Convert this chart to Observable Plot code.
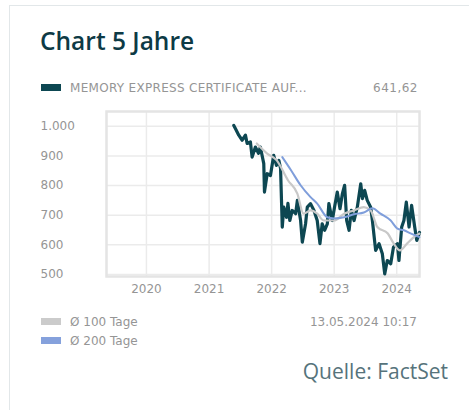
<!DOCTYPE html>
<html>
<head>
<meta charset="utf-8">
<script src="https://cdn.jsdelivr.net/npm/d3@7"></script>
<script src="https://cdn.jsdelivr.net/npm/@observablehq/plot@0.6"></script>
<style>
  html, body { margin: 0; padding: 0; background: #fff; width: 469px; height: 410px; overflow: hidden; }
  .card { position: absolute; left: 9px; top: 5px; width: 600px; height: 600px; border-left: 1px solid #e2e7e9; border-top: 1px solid #e2e7e9; }
  .t { position: absolute; white-space: nowrap; font-family: "DejaVu Sans", sans-serif; font-size: 12px; line-height: 14px; color: #959595; }
  .title { position: absolute; left: 40px; top: 24px; font-family: "Open Sans", sans-serif; font-weight: 600; font-size: 24.5px; line-height: 33px; color: #0d3a45; white-space: nowrap; }
  .sw { position: absolute; width: 20px; height: 7px; }
  .src { position: absolute; right: 21px; top: 357px; font-family: "Open Sans", sans-serif; font-size: 21px; line-height: 29px; color: #56737b; white-space: nowrap; }
  #chart { position: absolute; left: 0; top: 100px; }
</style>
</head>
<body>
<div class="card"></div>
<div class="title">Chart 5 Jahre</div>
<div class="sw" style="left:41px;top:84px;background:#0d4752"></div>
<div class="t" style="left:70px;top:81px;letter-spacing:0.3px">MEMORY EXPRESS CERTIFICATE AUF...</div>
<div class="t" style="right:51px;top:81px;letter-spacing:0.5px">641,62</div>
<div id="chart"></div>
<div class="sw" style="left:41px;top:318px;background:#cbcbcb"></div>
<div class="t" style="left:70px;top:315px">Ø 100 Tage</div>
<div class="sw" style="left:41px;top:337px;background:#85a1dc"></div>
<div class="t" style="left:70px;top:334px">Ø 200 Tage</div>
<div class="t" style="right:52px;top:315px">13.05.2024 10:17</div>
<div class="src">Quelle: FactSet</div>
<script>
const priceDates = ["2021-05-25","2021-06-04","2021-06-23","2021-07-13","2021-08-01","2021-08-11","2021-08-30","2021-09-09","2021-09-28","2021-10-16","2021-10-27","2021-11-16","2021-11-20","2021-12-06","2021-12-25","2022-01-13","2022-01-29","2022-02-12","2022-02-22","2022-03-04","2022-03-13","2022-03-29","2022-04-06","2022-04-17","2022-05-01","2022-05-21","2022-05-31","2022-06-19","2022-06-29","2022-07-18","2022-07-28","2022-08-16","2022-09-05","2022-09-24","2022-10-10","2022-10-23","2022-11-06","2022-11-22","2022-12-01","2022-12-21","2023-01-03","2023-01-19","2023-02-04","2023-02-18","2023-03-03","2023-03-15","2023-03-29","2023-04-11","2023-04-27","2023-05-16","2023-06-05","2023-06-15","2023-06-28","2023-07-13","2023-08-02","2023-08-12","2023-08-31","2023-09-20","2023-10-09","2023-10-23","2023-11-07","2023-11-27","2023-12-13","2024-01-05","2024-01-14","2024-01-30","2024-02-12","2024-02-26","2024-03-13","2024-03-28","2024-04-15","2024-04-27","2024-05-13"];
const priceValues = [1003,992,970,953,970,942,947,896,930,909,930,874,778,840,834,902,868,885,858,660,727,693,740,682,716,705,750,682,609,671,727,739,716,682,604,671,649,671,739,682,727,778,722,773,801,682,649,716,682,727,806,756,784,750,727,682,581,604,570,502,547,536,592,604,547,660,682,744,660,733,660,615,641.62];

const ma100Dates = ["2021-10-06","2021-12-06","2022-01-31","2022-04-06","2022-05-31","2022-07-06","2022-08-16","2022-09-24","2022-11-01","2022-12-31","2023-02-28","2023-04-27","2023-06-23","2023-08-02","2023-09-10","2023-11-10","2023-12-15","2024-01-20","2024-03-01","2024-04-10","2024-05-13"];
const ma100Values = [942,908,885,818,773,705,716,705,682,682,705,716,727,716,660,638,604,581,604,626,638];

const ma200Dates = ["2022-03-04","2022-04-25","2022-06-19","2022-08-16","2022-09-24","2022-11-22","2023-01-01","2023-02-28","2023-04-27","2023-06-23","2023-08-12","2023-09-28","2023-11-27","2024-01-05","2024-02-12","2024-03-25","2024-05-13"];
const ma200Values = [896,851,801,761,739,693,689,693,703,709,723,705,682,655,649,638,626];

const yTicks = [500, 600, 700, 800, 900, 1000];
const xTickLabels = ["2020", "2021", "2022", "2023", "2024"];
const xDomain = ["2019-05-13", "2024-05-13"];

const toRows = (ds, vs) => ds.map((d, i) => ({date: new Date(d), value: vs[i]}));
const price = toRows(priceDates, priceValues);
const ma100 = toRows(ma100Dates, ma100Values);
const ma200 = toRows(ma200Dates, ma200Values);
const xTicks = xTickLabels.map(y => new Date(y + "-01-01"));
const de = d3.formatLocale({decimal: ",", thousands: ".", grouping: [3], currency: ["", "€"]});

const chart = Plot.plot({
  width: 469,
  height: 200,
  marginLeft: 106,
  marginRight: 50,
  marginTop: 11,
  marginBottom: 24,
  style: {fontFamily: "DejaVu Sans, sans-serif", fontSize: "12px", color: "#959595", background: "transparent", overflow: "visible"},
  x: {type: "utc", domain: xDomain.map(d => new Date(d)), label: null},
  y: {domain: [493, 1050], label: null},
  marks: [
    Plot.gridY(yTicks, {stroke: "#ebebeb", strokeOpacity: 1, strokeWidth: 1.5}),
    Plot.gridX(xTicks, {stroke: "#ebebeb", strokeOpacity: 1, strokeWidth: 1.5}),
    Plot.frame({stroke: "#e4e4e4", strokeWidth: 2.5}),
    Plot.axisY(yTicks, {tickSize: 0, tickPadding: 66, textAnchor: "start", tickFormat: de.format(",d"), fill: "#959595", label: null}),
    Plot.axisX(xTicks, {tickSize: 0, tickPadding: 8, tickFormat: d3.utcFormat("%Y"), fill: "#959595", label: null}),
    Plot.line(price, {x: "date", y: "value", stroke: "#0d4752", strokeWidth: 3.2, curve: "linear"}),
    Plot.line(ma100, {x: "date", y: "value", stroke: "#c8c8c8", strokeWidth: 2.2, curve: "monotone-x"}),
    Plot.line(ma200, {x: "date", y: "value", stroke: "#7f9edb", strokeWidth: 2, curve: "monotone-x"})
  ]
});
document.getElementById("chart").appendChild(chart);
</script>
</body>
</html>
